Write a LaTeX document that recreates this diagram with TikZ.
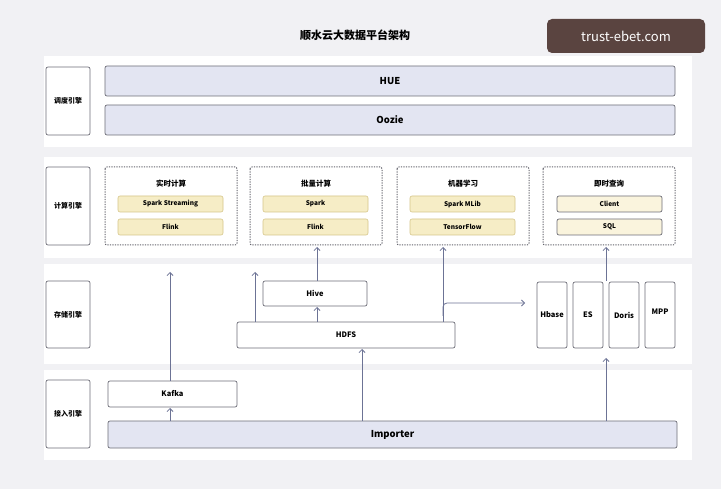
\documentclass[tikz,border=0pt]{standalone}
\usepackage{fontspec}
\setmainfont{Noto Sans CJK SC}
\usetikzlibrary{arrows.meta}
\definecolor{bgc}{HTML}{F1F1F4}
\definecolor{lav}{HTML}{E3E5F2}
\definecolor{edg}{HTML}{6E6E78}
\definecolor{ylw}{HTML}{F6EDC6}
\definecolor{yed}{HTML}{D6C68A}
\definecolor{arr}{HTML}{6C7395}
\definecolor{wm}{HTML}{5A4440}
\begin{document}
\begin{tikzpicture}[x=1pt,y=-1pt,
 band/.style={fill=white,draw=none},
 lab/.style={draw=edg,line width=0.7pt,rounded corners=2pt,fill=white,font=\fontsize{7}{8}\selectfont\bfseries},
 big/.style={draw=edg,line width=0.7pt,rounded corners=2pt,fill=lav,font=\fontsize{9.5}{10}\selectfont\bfseries},
 wbox/.style={draw=edg,line width=0.7pt,rounded corners=2pt,fill=white,font=\fontsize{7.5}{8}\selectfont\bfseries},
 grp/.style={draw=edg!90!black,dash pattern=on 1.2pt off 1.3pt,line width=1pt,rounded corners=2pt},
 gt/.style={font=\fontsize{7.5}{8}\selectfont\bfseries},
 item/.style={draw=yed,line width=0.6pt,rounded corners=2pt,fill=ylw,font=\fontsize{6.5}{7}\selectfont\bfseries},
 itemb/.style={draw=edg,line width=0.7pt,rounded corners=2pt,fill=ylw!60,font=\fontsize{6.5}{7}\selectfont\bfseries},
 ar/.style={draw=arr,line width=0.8pt,-{Straight Barb[length=3pt,width=6pt]}}]
\fill[bgc] (0,0) rectangle (721,489);
\node[font=\fontsize{11}{12}\selectfont\bfseries] (title) at (355,35) {顺水云大数据平台架构};
\node[fill=wm,rounded corners=5pt,text=white,font=\fontsize{13}{14}\selectfont,minimum width=158pt,minimum height=34pt] (wm) at (626,36) {trust-ebet.com};
% bands
\fill[band] (44,56) rectangle (692,147);
\fill[band] (44,157) rectangle (692,258);
\fill[band] (44,264) rectangle (692,364);
\fill[band] (44,370) rectangle (692,460);
% labels
\path[lab] (46,67) rectangle (90,135) node[midway] (l1) {调度引擎};
\path[lab] (46,167) rectangle (90,245) node[midway] (l2) {计算引擎};
\path[lab] (46,281) rectangle (90,348) node[midway] (l3) {存储引擎};
\path[lab] (46,380) rectangle (90,448) node[midway] (l4) {接入引擎};
% layer 1
\path[big] (105,66) rectangle (675,96) node[midway] (hue) {HUE};
\path[big] (105,105) rectangle (675,135) node[midway] (oozie) {Oozie};
% layer 2 groups
\foreach \x/\t/\a/\b/\n in {105/实时计算/Spark Streaming/Flink/g1,250/批量计算/Spark/Flink/g2,397/机器学习/Spark MLib/TensorFlow/g3}{
 \draw[grp] (\x,167) rectangle (\x+132,245);
 \coordinate (\n) at (\x+66,246);
 \node[gt] at (\x+66,184) {\t};
 \path[item] (\x+13,196) rectangle (\x+118,212) node[midway] {\a};
 \path[item] (\x+13,219) rectangle (\x+118,235) node[midway] {\b};
}
\draw[grp] (543,167) rectangle (675,245);
\coordinate (g4) at (606,246);
\node[gt] at (609,184) {即时查询};
\path[itemb] (557,196) rectangle (662,212) node[midway] {Client};
\path[itemb] (557,219) rectangle (662,235) node[midway] {SQL};
% layer 3
\path[wbox] (263,281) rectangle (367,306) node[midway] (hive) {Hive};
\path[wbox] (237,322) rectangle (455,348) node[midway] (hdfs) {HDFS};
\path[wbox] (537,282) rectangle (567,348) node[midway] (hb) {Hbase};
\path[wbox] (573,282) rectangle (603,348) node[midway] (es) {ES};
\path[wbox] (609,282) rectangle (639,348) node[midway] (dor) {Doris};
\path[wbox] (645,282) rectangle (675,348) node[midway,yshift=3pt] (mpp) {MPP};
% layer 4
\path[wbox] (108,381) rectangle (237,407) node[midway] (kafka) {Kafka};
\path[big] (108,421) rectangle (677,448) node[midway] (imp) {Importer};
% arrows
\coordinate (k1) at (170,272);
\coordinate (h1) at (255,272);
\coordinate (br) at (525,303);
\draw[ar] (170,381) -- (k1);
\draw[ar] (255,322) -- (h1);
\draw[ar] (317,281) -- (317,247);
\draw[ar] (317,322) -- (317,307);
\draw[ar] (443,322) -- (443,247);
\draw[draw=arr,line width=0.8pt,rounded corners=4pt,-{Straight Barb[length=3pt,width=6pt]}] (443,316) -- (443,303) -- (br);
\draw[ar] (362,421) -- (362,349);
\draw[ar] (170,421) -- (170,408);
\draw[ar] (606,421) -- (606,358);
\draw[ar] (606,281) -- (606,247);
\end{tikzpicture}
\end{document}
